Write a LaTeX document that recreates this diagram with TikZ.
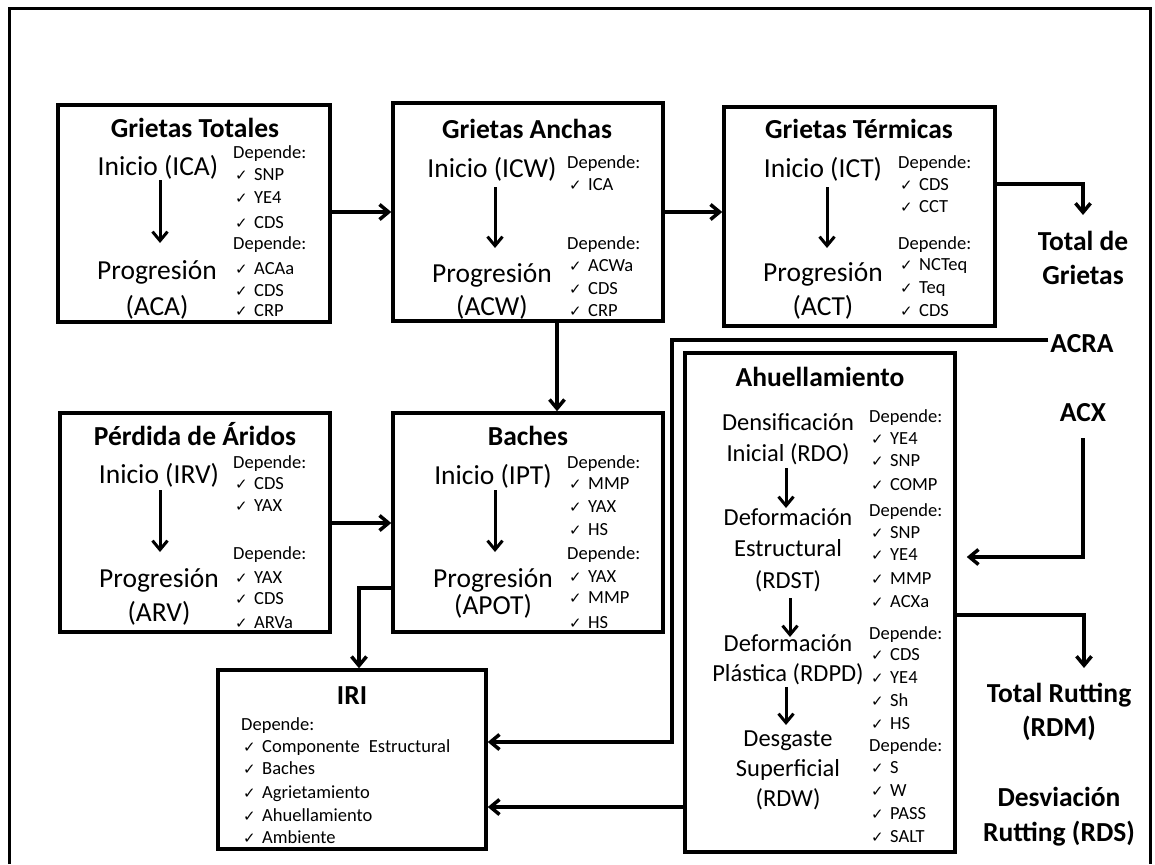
\documentclass[tikz,border=0pt]{standalone}
\usepackage{fontspec}
\setmainfont{Carlito}
\newfontfamily\dejavu{DejaVu Sans}
\usetikzlibrary{arrows.meta}
\newcommand\ck{\makebox[21pt][l]{\hspace{2pt}{\dejavu\fontsize{15}{15}\selectfont ✓}}}
\tikzset{
 box/.style={draw, line width=3.5pt, inner sep=0pt},
 conn/.style={line width=3.5pt, -{Straight Barb[length=9pt,width=15pt]}},
 inarr/.style={line width=3pt, -{Straight Barb[length=9pt,width=15pt]}},
 big/.style={font=\fontsize{27.5}{30}\selectfont, anchor=base, inner sep=2pt},
 bigb/.style={font=\bfseries\fontsize{27.5}{30}\selectfont, anchor=base, inner sep=2pt},
 mid/.style={font=\fontsize{24.5}{28}\selectfont, anchor=base, inner sep=1pt},
 sm/.style={font=\fontsize{18.5}{20}\selectfont, anchor=base west, inner sep=0pt},
}
\begin{document}
\begin{tikzpicture}[x=1pt,y=-1pt]
\useasboundingbox (0,0) rectangle (1155,864);
\draw[line width=3pt] (9,864) -- (9,9) -- (1150,9) -- (1150,864);

% boxes
\node[box, minimum width=272pt, minimum height=217pt] (gt) at (194,213.5) {};
\node[box, minimum width=270pt, minimum height=218pt] (ga) at (528,212) {};
\node[box, minimum width=271pt, minimum height=219pt] (gtt) at (859.5,216.5) {};
\node[box, minimum width=270pt, minimum height=219pt] (pa) at (195,522.5) {};
\node[box, minimum width=270pt, minimum height=219pt] (ba) at (528,522.5) {};
\node[box, minimum width=268pt, minimum height=179pt] (iri) at (352,759.5) {};
\node[box, minimum width=270pt, minimum height=499pt] (ah) at (820,602.5) {};

% Grietas Totales
\node[bigb] (gtT) at (195,137) {Grietas Totales};
\node[big] (gtI) at (158,175) {Inicio (ICA)};
\node[big] (gtP) at (157,279) {Progresión};
\node[big] (gtA) at (157,315) {(ACA)};
\draw[inarr] (160,180) -- (160,243);
\foreach \yy/\t [count=\i] in {158/Depende:,180/\ck SNP,203/\ck YE4,228/\ck CDS,249/Depende:,274/\ck ACAa,296/\ck CDS,316/\ck CRP}
  \node[sm] (l1-\i) at (233,\yy) {\t};

% Grietas Anchas
\node[bigb] (gaT) at (527,138) {Grietas Anchas};
\node[big] (gaI) at (492,177) {Inicio (ICW)};
\node[big] (gaP) at (492,282) {Progresión};
\node[big] (gaA) at (492,315) {(ACW)};
\draw[inarr] (495,187) -- (495,248);
\foreach \yy/\t [count=\i] in {168/Depende:,190/\ck ICA,249/Depende:,271/\ck ACWa,294/\ck CDS,316/\ck CRP}
  \node[sm] (l2-\i) at (567,\yy) {\t};

% Grietas Termicas
\node[bigb] (gttT) at (859,138) {Grietas Térmicas};
\node[big] (gttI) at (823,177) {Inicio (ICT)};
\node[big] (gttP) at (823,281) {Progresión};
\node[big] (gttA) at (823,315) {(ACT)};
\draw[inarr] (827,187) -- (827,248);
\foreach \yy/\t [count=\i] in {168/Depende:,190/\ck CDS,212/\ck CCT,249/Depende:,270/\ck NCTeq,293/\ck Teq,316/\ck CDS}
  \node[sm] (l3-\i) at (898,\yy) {\t};

% Perdida de Aridos
\node[bigb] (paT) at (195,445) {Pérdida de Áridos};
\node[big] (paI) at (159,483) {Inicio (IRV)};
\node[big] (paP) at (159,587) {Progresión};
\node[big] (paA) at (159,621) {(ARV)};
\draw[inarr] (160,490) -- (160,552);
\foreach \yy/\t [count=\i] in {468/Depende:,489/\ck CDS,511/\ck YAX,559/Depende:,583/\ck YAX,604/\ck CDS,628/\ck ARVa}
  \node[sm] (l4-\i) at (233,\yy) {\t};

% Baches
\node[bigb] (baT) at (528,445) {Baches};
\node[big] (baI) at (493,484) {Inicio (IPT)};
\node[big] (baP) at (493,587) {Progresión};
\node[big] (baA) at (493,614) {(APOT)};
\draw[inarr] (495,490) -- (495,552);
\foreach \yy/\t [count=\i] in {468/Depende:,489/\ck MMP,512/\ck YAX,535/\ck HS,559/Depende:,582/\ck YAX,603/\ck MMP,628/\ck HS}
  \node[sm] (l5-\i) at (567,\yy) {\t};

% IRI
\node[bigb] (iriT) at (352,704) {IRI};
\foreach \yy/\t [count=\i] in {730/Depende:,752/\ck Componente\hspace{0.5em}Estructural,774/\ck Baches,798/\ck Agrietamiento,821/\ck Ahuellamiento,843/\ck Ambiente}
  \node[sm] (l6-\i) at (241,\yy) {\t};

% Ahuellamiento
\node[bigb] (ahT) at (820,386) {Ahuellamiento};
\node[mid] (ah1) at (788,430) {Densificación};
\node[mid] (ah2) at (788,461) {Inicial (RDO)};
\node[mid] (ah3) at (788,525) {Deformación};
\node[mid] (ah4) at (788,556) {Estructural};
\node[mid] (ah5) at (788,588) {(RDST)};
\node[mid] (ah6) at (788,651) {Deformación};
\node[mid] (ah7) at (788,681) {Plástica (RDPD)};
\node[mid] (ah8) at (788,746) {Desgaste};
\node[mid] (ah9) at (788,776) {Superficial};
\node[mid] (ah10) at (788,806) {(RDW)};
\draw[inarr] (786,468) -- (786,508);
\draw[inarr] (790,598) -- (790,637);
\draw[inarr] (786,687) -- (786,725);
\foreach \yy/\t [count=\i] in {422/Depende:,444/\ck YE4,466/\ck SNP,490/\ck COMP,516/Depende:,538/\ck SNP,560/\ck YE4,584/\ck MMP,607/\ck ACXa,639/Depende:,660/\ck CDS,683/\ck YE4,706/\ck Sh,729/\ck HS,751/Depende:,773/\ck S,796/\ck W,819/\ck PASS,842/\ck SALT}
  \node[sm] (l7-\i) at (869,\yy) {\t};

% right labels
\node[bigb] (tg1) at (1083,250) {Total de};
\node[bigb] (tg2) at (1083,284) {Grietas};
\node[bigb] (acra) at (1082,352) {ACRA};
\node[bigb] (acx) at (1083,421) {ACX};
\node[bigb] (tr1) at (1059,702) {Total Rutting};
\node[bigb] (tr2) at (1059,736) {(RDM)};
\node[bigb] (dr1) at (1059,806) {Desviación};
\node[bigb] (dr2) at (1059,841) {Rutting (RDS)};

% connectors
\coordinate (tgEnd) at (1083,215);
\coordinate (acxStart) at (1083,438);
\coordinate (trEnd) at (1084,668);
\draw[conn] (gt.east |- 0,212) -- (ga.west |- 0,212);
\draw[conn] (ga.east |- 0,212) -- (gtt.west |- 0,212);
\draw[conn] (gtt.east |- 0,184) -| (tgEnd);
\draw[conn] (ga.south -| 557,0) -- (ba.north -| 557,0);
\draw[conn] (pa.east |- 0,523) -- (ba.west |- 0,523);
\draw[conn] (ba.west |- 0,588) -| (iri.north -| 359,0);
\draw[conn] (acra.west |- 0,340) -- (672,340) |- (iri.east |- 0,742);
\draw[conn, shorten >=10pt] (acxStart) |- (ah.east |- 0,557);
\draw[conn] (ah.east |- 0,615) -| (trEnd);
\draw[conn] (ah.west |- 0,807) -- (iri.east |- 0,807);
\end{tikzpicture}
\end{document}
